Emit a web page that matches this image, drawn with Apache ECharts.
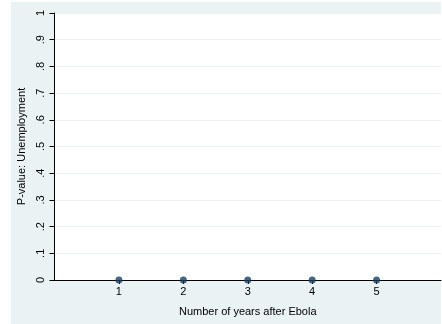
<!DOCTYPE html>
<html>
<head>
<meta charset="utf-8">
<script src="https://cdn.jsdelivr.net/npm/echarts@6/dist/echarts.min.js"></script>
<style>
  html, body { margin: 0; padding: 0; background: #ffffff; }
  #chart { width: 442px; height: 324px; }
</style>
</head>
<body>
<div id="chart"></div>
<script>
// Years after the Ebola outbreak and the estimated p-values for unemployment
const years = [1, 2, 3, 4, 5];
const pValues = [0, 0, 0, 0, 0];
const yTicks = [0, 0.1, 0.2, 0.3, 0.4, 0.5, 0.6, 0.7, 0.8, 0.9, 1];
const xTicks = [1, 2, 3, 4, 5];

const FONT = 'Liberation Sans, Arial, sans-serif';
const BG = '#eaf2f3';
const MARKER = '#173f63';

function fmtP(v) {
  if (v === 0) return '0';
  if (v === 1) return '1';
  return v.toFixed(1).replace(/^0/, '');
}

const chart = echarts.init(document.getElementById('chart'), null, { renderer: 'canvas' });
chart.setOption({
  backgroundColor: '#ffffff',
  animation: false,
  graphic: [{
    type: 'rect',
    z: -10,
    silent: true,
    shape: { x: 11, y: 2, width: 430, height: 322 },
    style: { fill: BG }
  }],
  grid: {
    left: 54.5, right: 1, top: 13, bottom: 44,
    show: true, backgroundColor: '#ffffff', borderWidth: 0
  },
  xAxis: {
    type: 'value',
    min: 0, max: 6, interval: 1,
    name: 'Number of years after Ebola',
    nameLocation: 'middle',
    nameGap: 26,
    nameTextStyle: { fontFamily: FONT, fontSize: 11, color: '#000' },
    axisLine: { show: true, onZero: false, lineStyle: { color: '#000', width: 1 } },
    axisTick: { show: true, length: 4, customValues: xTicks, lineStyle: { color: '#000' } },
    axisLabel: { customValues: xTicks, margin: 6, fontFamily: FONT, fontSize: 11, color: '#000' },
    splitLine: { show: false }
  },
  yAxis: {
    type: 'value',
    min: 0, max: 1, interval: 0.1,
    name: 'P-value: Unemployment',
    nameLocation: 'middle',
    nameGap: 26,
    nameTextStyle: { fontFamily: FONT, fontSize: 11, color: '#000' },
    axisLine: { show: true, lineStyle: { color: '#000', width: 1 } },
    axisTick: { show: true, length: 5, customValues: yTicks, lineStyle: { color: '#000' } },
    axisLabel: {
      customValues: yTicks,
      rotate: 90, margin: 8,
      fontFamily: FONT, fontSize: 11, color: '#000',
      formatter: fmtP
    },
    splitLine: { show: true, lineStyle: { color: BG, width: 1 } }
  },
  series: [{
    type: 'scatter',
    data: years.map((y, i) => [y, pValues[i]]),
    symbol: 'circle',
    symbolSize: 7,
    itemStyle: { color: MARKER },
    clip: false
  }]
});
</script>
</body>
</html>
